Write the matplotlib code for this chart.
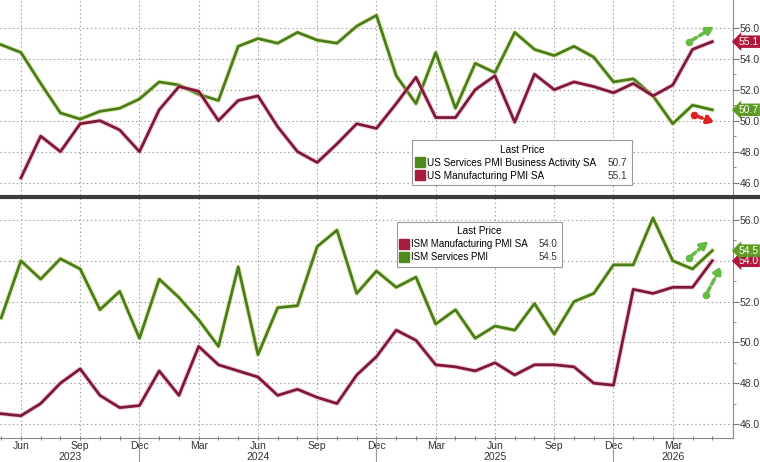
import numpy as np
import matplotlib
matplotlib.use("Agg")
import matplotlib.pyplot as plt
import matplotlib.patheffects as pe
from matplotlib.lines import Line2D
from matplotlib.patches import FancyArrowPatch
from matplotlib.transforms import blended_transform_factory

plt.rcParams['font.family'] = ['Liberation Sans', 'DejaVu Sans']

# month index: 0 = Jun 2023, -1 = May 2023, 35 = May 2026
months = np.arange(-1, 36)

us_services = [54.9, 54.4, 52.4, 50.5, 50.1, 50.6, 50.8, 51.4,
               52.5, 52.3, 51.7, 51.3, 54.8, 55.3, 55.0, 55.7, 55.2, 55.0, 56.1, 56.8,
               52.9, 51.1, 54.4, 50.8, 53.7, 53.1, 55.7, 54.6, 54.2, 54.8, 54.1, 52.5,
               52.7, 51.6, 49.8, 51.0, 50.7]
us_manuf = [46.3, 49.0, 48.0, 49.8, 50.0, 49.4, 48.0,
            50.7, 52.2, 51.9, 50.0, 51.3, 51.6, 49.6, 48.0, 47.3, 48.5, 49.8, 49.5,
            51.1, 52.8, 50.2, 50.2, 52.0, 52.9, 49.9, 53.0, 52.0, 52.5, 52.2, 51.8,
            52.4, 51.6, 52.3, 54.6, 55.1]
ism_manuf = [46.5, 46.4, 47.0, 48.0, 48.7, 47.4, 46.8, 46.9,
             48.6, 47.4, 49.8, 48.9, 48.6, 48.3, 47.4, 47.7, 47.3, 47.0, 48.4, 49.3,
             50.6, 50.1, 48.9, 48.8, 48.6, 49.0, 48.4, 48.9, 48.9, 48.8, 48.0, 47.9,
             52.6, 52.4, 52.7, 52.7, 54.0]
ism_services = [51.2, 54.0, 53.1, 54.1, 53.6, 51.6, 52.5, 50.2,
                53.1, 52.2, 51.1, 49.8, 53.7, 49.4, 51.7, 51.8, 54.7, 55.5, 52.4, 53.5,
                52.7, 53.2, 50.9, 51.6, 50.2, 50.8, 50.6, 51.9, 50.4, 52.0, 52.4, 53.8,
                53.8, 56.1, 54.0, 53.6, 54.5]

quarter_pos = np.arange(0, 36, 3)
quarter_lab = ['Jun', 'Sep', 'Dec', 'Mar'] * 3
year_pos = [2.5, 12, 24, 33]
year_lab = ['2023', '2024', '2025', '2026']
year_breaks = [6, 18, 30]

green = '#4b7c1b'
green_halo = '#c6e07a'
red = '#7e1838'
red_halo = '#e7a3b4'
green_badge = '#5d9a22'
red_badge = '#b0173a'

fig = plt.figure(figsize=(7.6, 4.62), dpi=100)
W, H = 760, 462
ax1 = fig.add_axes([0, 1 - 195 / H, 733 / W, 195 / H])
ax2 = fig.add_axes([0, 1 - 438 / H, 733 / W, 240 / H])


def halo(c):
    return [pe.Stroke(linewidth=3.4, foreground=c, alpha=0.55), pe.Normal()]


ax1.plot(months, us_services, color=green, lw=2.0, path_effects=halo(green_halo))
ax1.plot(months[1:], us_manuf, color=red, lw=2.0, path_effects=halo(red_halo))
ax2.plot(months, ism_manuf, color=red, lw=2.0, path_effects=halo(red_halo))
ax2.plot(months, ism_services, color=green, lw=2.0, path_effects=halo(green_halo))

ax1.set_ylim(45.2, 57.79)
ax2.set_ylim(45.31, 57.08)

for ax in (ax1, ax2):
    ax.set_xlim(-1.06, 36.05)
    ax.yaxis.tick_right()
    ax.set_yticks(np.arange(46, 57, 2))
    ax.set_yticks(np.arange(47, 57, 2), minor=True)
    ax.set_yticklabels(['%.1f' % v for v in np.arange(46, 57, 2)])
    ax.set_xticks(quarter_pos)
    ax.set_xticks(months, minor=True)
    ax.grid(True, which='major', color='#9a9a9a', linestyle=(0, (1.2, 2.5)), lw=0.8)
    ax.tick_params(axis='y', which='major', direction='out', length=4, width=0.8,
                   color='#777777', labelsize=7.5, labelcolor='#333333', pad=1)
    ax.tick_params(axis='y', which='minor', direction='out', length=2, width=0.6,
                   color='#777777')
    for s in ('left', 'top'):
        ax.spines[s].set_visible(False)
    ax.spines['right'].set_color('#8a8a8a')
    ax.spines['right'].set_linewidth(0.8)

ax1.spines['bottom'].set_visible(False)
ax1.tick_params(axis='x', which='both', length=0, labelbottom=False)
ax2.spines['bottom'].set_color('#8a8a8a')
ax2.spines['bottom'].set_linewidth(0.8)
ax2.set_xticklabels(quarter_lab)
ax2.tick_params(axis='x', which='both', direction='inout', length=3, width=0.7,
                color='#777777', labelsize=7.5, labelcolor='#333333', pad=0.5)

tr2 = blended_transform_factory(ax2.transData, ax2.transAxes)
for p, lab in zip(year_pos, year_lab):
    ax2.text(p, -0.079, lab, transform=tr2, ha='center', va='center', fontsize=7.5,
             color='#333333')
for b in year_breaks:
    ax2.plot([b, b], [0, -0.11], transform=tr2, color='#9a9a9a', lw=0.8, clip_on=False)

# separator between panels
fig.add_artist(Line2D([0, 1], [1 - 196.5 / H] * 2, lw=3, color='#3c3c3c'))


def badge(ax, val, fc):
    tr = blended_transform_factory(ax.transAxes, ax.transData)
    ax.text(1.0075, val, '%.1f' % val, transform=tr, ha='left', va='center',
            fontsize=7.5, color='white', clip_on=False,
            bbox=dict(boxstyle='larrow,pad=0.12', fc=fc, ec='none'))


badge(ax1, us_manuf[-1], red_badge)
badge(ax1, us_services[-1], green_badge)
badge(ax2, ism_manuf[-1], red_badge)
badge(ax2, ism_services[-1], green_badge)


# hand-drawn dashed arrows (figure pixels)
def arrow(p0, p1, c):
    fig.add_artist(FancyArrowPatch(
        (p0[0] / W, 1 - p0[1] / H), (p1[0] / W, 1 - p1[1] / H),
        transform=fig.transFigure, arrowstyle='-|>', mutation_scale=11,
        color=c, lw=2.6, linestyle=(0, (1.6, 1.0)), capstyle='round'))
    fig.add_artist(Line2D([p0[0] / W], [1 - p0[1] / H], marker='o', ms=4.5, color=c))


arrow((689, 42), (717, 25), '#66bb44')
arrow((694, 115), (718, 124), '#dd2222')
arrow((689, 258), (711, 239), '#66bb44')
arrow((706, 295), (723, 263), '#66bb44')

sq = dict(marker='s', linestyle='none', markersize=7)
legkw = dict(title='Last Price', loc='upper left', borderaxespad=0, mode='expand',
             fancybox=False, edgecolor='#9a9a9a', framealpha=1, handlelength=0.7,
             handletextpad=0.35, labelspacing=0.3, borderpad=0.45)
leg1 = ax1.legend([Line2D([], [], color='#4e8a1c', **sq), Line2D([], [], color='#a51d3c', **sq)],
                  ['US Services PMI Business Activity SA', 'US Manufacturing PMI SA'],
                  bbox_to_anchor=(0.562, 0.282, 0.3, 0.0), fontsize=7.2,
                  title_fontsize=7.2, **legkw)
leg1.get_frame().set_linewidth(0.8)
vals1 = ['%.1f' % us_services[-1], '%.1f' % us_manuf[-1]]

leg2 = ax2.legend([Line2D([], [], color='#a51d3c', **sq), Line2D([], [], color='#4e8a1c', **sq)],
                  ['ISM Manufacturing PMI SA', 'ISM Services PMI'],
                  bbox_to_anchor=(0.541, 0.9, 0.226, 0.0), fontsize=7.0,
                  title_fontsize=7.2, **legkw)
leg2.get_frame().set_linewidth(0.8)
vals2 = ['%.1f' % ism_manuf[-1], '%.1f' % ism_services[-1]]

fig.canvas.draw()
for leg, vals, fs in ((leg1, vals1, 7.2), (leg2, vals2, 7.0)):
    lb = leg.get_window_extent()
    for t, v in zip(leg.get_texts(), vals):
        tb = t.get_window_extent()
        fig.text((lb.x1 - 5) / W, (tb.y0 + tb.y1) / 2 / H, v, ha='right', va='center',
                 fontsize=fs, color='#333333', zorder=10)

fig.savefig('out.png', dpi=100)
